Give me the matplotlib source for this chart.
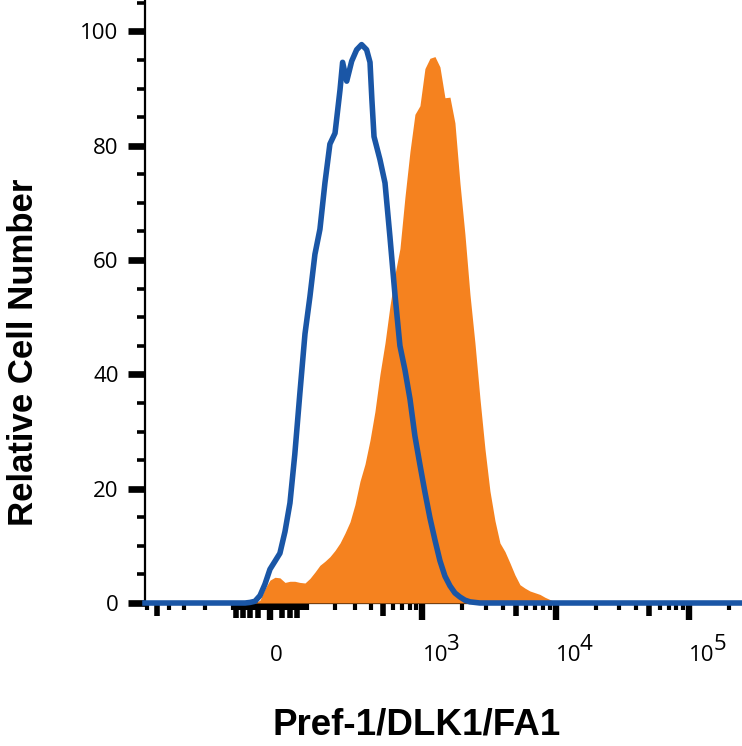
import matplotlib
matplotlib.use('Agg')
import matplotlib.pyplot as plt
import matplotlib.transforms as mtransforms

# isotype control histogram (blue outline), fluorescence intensity vs % of max
control_x = [-617, -64, -51, -38, -25, -12.5, 0, 12.5, 25, 38, 51, 64, 78, 93, 108,
             124, 141, 159, 178, 199, 221, 233, 253, 279, 307, 337, 370, 394, 408,
             424, 472, 517, 565, 617, 674, 736, 804, 877, 957, 1044, 1139, 1243,
             1355, 1478, 1612, 1757, 1916, 2089, 2278, 2707, 240000]
control_y = [0, 0, 0.1, 0.3, 1.3, 3.3, 5.9, 7.3, 8.7, 12.5, 17.5, 26, 36.6, 47.1, 53.6,
             61, 65.4, 73.5, 80.3, 82.2, 89.8, 94.6, 91.3, 94.8, 96.8, 97.7, 96.8, 94.6, 88,
             81.6, 77.6, 73.5, 64, 54, 45, 40.8, 35.7, 29.2, 24.2, 19.4, 14.9, 11.0,
             7.4, 4.7, 3.0, 1.75, 1.05, 0.5, 0.2, 0, 0]

# Pref-1/DLK1/FA1 stained cells (orange filled)
sample_x = [-51, -38, -25, -12.5, 0, 12.5, 25, 38, 51, 64, 78, 93, 108, 124, 141, 159,
            178, 199, 221, 244, 270, 297, 327, 359, 394, 431, 472, 517, 565, 617, 674,
            736, 804, 877, 957, 1044, 1139, 1243, 1355, 1478, 1612, 1757, 1916, 2089,
            2278, 2483, 2707, 2951, 3217, 3508, 3824, 4168, 4544, 4954, 5400, 5885,
            6415, 6993, 7623, 8309, 9057, 9872, 10760]
sample_y = [0, 0, 0.5, 2.5, 4.0, 4.5, 4.4, 3.6, 3.8, 3.8, 3.6, 3.5, 4.3, 5.4, 6.6, 7.3,
            8.1, 9.2, 10.5, 12.2, 14.2, 17.2, 21.3, 24.3, 28.5, 33.5, 40, 45.5, 52, 57.5, 62,
            71, 79, 85.5, 87, 93.5, 95.3, 95.6, 93.8, 88.4, 88.5, 84, 73.5, 64.5,
            54, 45.5, 35.8, 27, 19.6, 14.4, 10.5, 9.0, 7.0, 4.9, 3.2, 2.6,
            2.1, 1.8, 1.5, 1.0, 0.6, 0.2, 0]

major_x = [0, 1e3, 1e4, 1e5]
major_x_labels = ['0', '10', '10', '10']
exponents = ['', '3', '4', '5']
minor_x = ([-600, -500, -400, -300, -200, -100]
           + [-90, -80, -70, -60, -50, -40, -30, -20, -10]
           + [10, 20, 30, 40, 50, 60, 70, 80, 90]
           + [100, 200, 300, 400, 500, 600, 700, 800, 900]
           + [2000, 3000, 4000, 5000, 6000, 7000, 8000, 9000]
           + [20000, 30000, 40000, 50000, 60000, 70000, 80000, 90000, 200000])
mid_x = [-500, 500, 5000, 50000]
tall_x = [-90, -70, -50, -30, 30, 50, 70]

y_major = [0, 20, 40, 60, 80, 100]
y_minor = [5, 10, 15, 25, 30, 35, 45, 50, 55, 65, 70, 75, 85, 90, 95, 105]

orange = '#F5821F'
blue = '#1A56A6'

fig = plt.figure(figsize=(7.42, 7.46), dpi=100)
ax = fig.add_axes([145 / 742, 143 / 746, 595 / 742, 603 / 746])

ax.fill_between(sample_x, sample_y, 0, color=orange, linewidth=0, zorder=2)
ax.plot(control_x, control_y, color=blue, linewidth=4.0, solid_joinstyle='round',
        zorder=3, clip_on=False)

ax.set_xscale('asinh', linear_width=145)
ax.set_xlim(-617, 240000)
ax.set_ylim(0, 105.5)

for side in ['top', 'right']:
    ax.spines[side].set_visible(False)
ax.spines['left'].set_linewidth(1.6)
ax.spines['bottom'].set_linewidth(1.6)
ax.spines['bottom'].set_zorder(1)

tick_font = {'family': 'Open Sans', 'size': 16}

ax.set_xticks(major_x, major_x_labels, ha='left', **tick_font)
ax.set_xticks(minor_x, minor=True)
ax.tick_params(axis='x', which='major', direction='out', length=12.5, width=4.6,
               pad=18, color='black')
ax.tick_params(axis='x', which='minor', direction='out', length=5, width=3,
               color='black')
for tick, loc in zip(ax.xaxis.get_minor_ticks(len(minor_x)), minor_x):
    if loc in mid_x:
        tick.tick1line.set_markersize(9)
        tick.tick1line.set_markeredgewidth(4)
    elif loc in tall_x:
        tick.tick1line.set_markersize(11)
        tick.tick1line.set_markeredgewidth(4)

base = mtransforms.blended_transform_factory(ax.transData, ax.transAxes)
exp_trans = mtransforms.offset_copy(base, fig=fig, x=24, y=-31, units='dots')
for loc, e in zip(major_x, exponents):
    if e:
        ax.text(loc, 0, e, transform=exp_trans, ha='left', va='top',
                clip_on=False, **tick_font)

ax.set_yticks(y_major, [str(v) for v in y_major], **tick_font)
ax.set_yticks(y_minor, minor=True)
ax.tick_params(axis='y', which='major', direction='out', length=12, width=4.8, pad=7)
ax.tick_params(axis='y', which='minor', direction='out', length=6, width=2.6)

ax.set_xlabel('Pref-1/DLK1/FA1', fontsize=26.5, fontweight='bold',
              family='Liberation Sans')
ax.xaxis.set_label_coords(0.457, -0.174)
ax.set_ylabel('Relative Cell Number', fontsize=25, fontweight='bold',
              family='Liberation Sans')
ax.yaxis.set_label_coords(-0.176, 0.415)

fig.savefig('out.png', dpi=100)
